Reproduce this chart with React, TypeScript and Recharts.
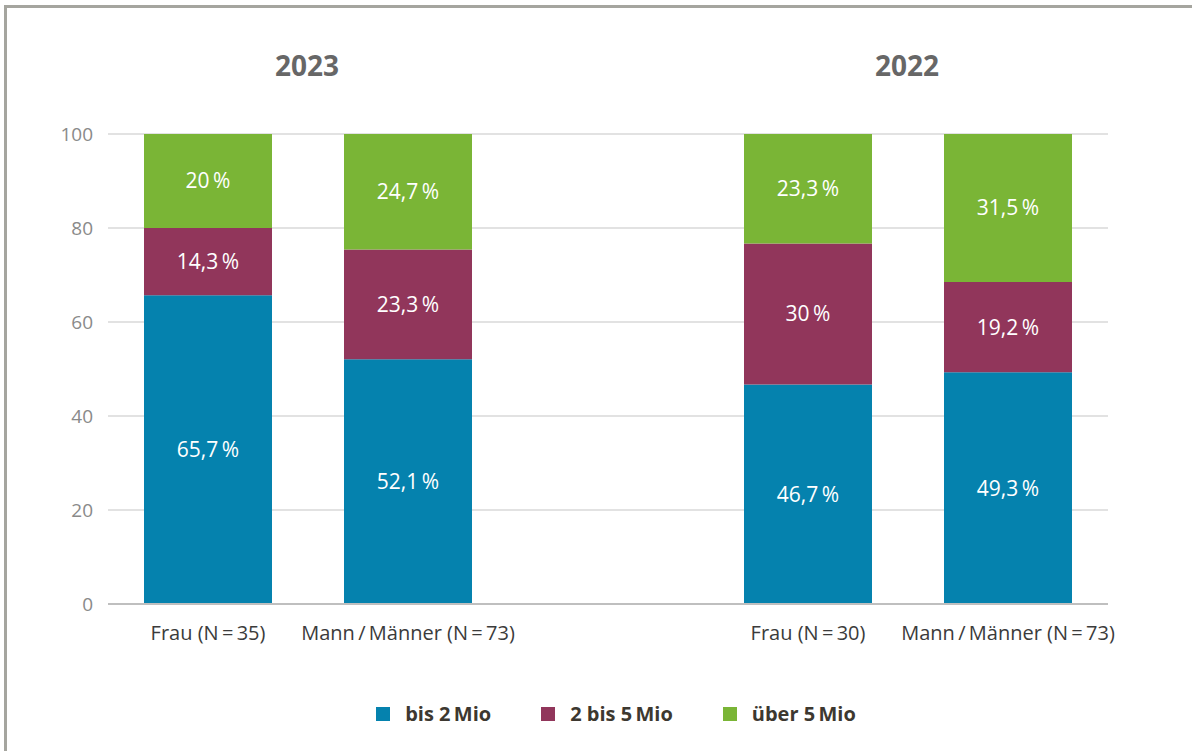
import React from "react";
import { BarChart, Bar, XAxis, YAxis, CartesianGrid, LabelList } from "recharts";

const categories = [
  "Frau (N\u2009=\u200935)",
  "Mann\u2009/\u2009Männer (N\u2009=\u200973)",
  "",
  "Frau (N\u2009=\u200930)",
  "Mann\u2009/\u2009Männer (N\u2009=\u200973)",
];
const bis2Mio: (number | null)[] = [65.7, 52.1, null, 46.7, 49.3];
const zwei5Mio: (number | null)[] = [14.3, 23.3, null, 30, 19.2];
const ueber5Mio: (number | null)[] = [20, 24.7, null, 23.3, 31.5];
const yTicks = [0, 20, 40, 60, 80, 100];
const groupTitles = ["2023", "2022"];

const seriesNames = ["bis 2\u2009Mio", "2 bis 5\u2009Mio", "über 5\u2009Mio"];
const seriesColors = ["#0582AE", "#91365B", "#7AB536"];
const seriesKeys = ["s1", "s2", "s3"];

const data = categories.map((name, i) => ({
  name,
  s1: bis2Mio[i],
  s2: zwei5Mio[i],
  s3: ueber5Mio[i],
}));

const FONT = "'Open Sans', sans-serif";

const fmt = (v: any) =>
  v == null ? "" : String(v).replace(".", ",") + "\u2009%";

const YTick = (props: any) => {
  const { x, y, payload } = props;
  return (
    <text
      x={x}
      y={y}
      dy={7}
      textAnchor="end"
      fill="#8a8a8a"
      fontSize={19}
      fontFamily={FONT}
    >
      {payload.value}
    </text>
  );
};

export default function App() {
  return (
    <div
      style={{
        position: "absolute",
        left: 0,
        top: 0,
        width: 1192,
        height: 751,
        background: "#fff",
        overflow: "hidden",
        fontFamily: FONT,
      }}
    >
      <div
        style={{
          position: "absolute",
          left: 4,
          top: 5,
          width: 1192,
          height: 760,
          borderTop: "3px solid #a5a59f",
          borderLeft: "3px solid #a5a59f",
        }}
      />
      {groupTitles.map((t, i) => (
        <div
          key={t}
          style={{
            position: "absolute",
            left: 307 + i * 600 - 60,
            width: 120,
            top: 46,
            textAlign: "center",
            fontSize: 28,
            fontWeight: 700,
            color: "#676767",
            lineHeight: "38px",
          }}
        >
          {t}
        </div>
      ))}
      <div style={{ position: "absolute", left: 0, top: 0 }}>
        <BarChart
          width={1192}
          height={751}
          data={data}
          margin={{ top: 134, right: 84, bottom: 107, left: 0 }}
          barSize={128}
        >
          <CartesianGrid
            vertical={false}
            stroke="#d9d9d9"
            strokeWidth={1.3}
          />
          <XAxis
            dataKey="name"
            height={40}
            tickLine={false}
            axisLine={{ stroke: "#bfbfbf", strokeWidth: 2 }}
            tickSize={0}
            tickMargin={22}
            interval={0}
            tick={{ fill: "#3b3b3b", fontSize: 20, fontFamily: FONT }}
          />
          <YAxis
            width={108}
            domain={[0, 100]}
            ticks={yTicks}
            allowDataOverflow
            axisLine={false}
            tickLine={false}
            tickSize={0}
            tickMargin={15}
            tick={<YTick />}
          />
          {seriesKeys.map((k, i) => (
            <Bar
              key={k}
              dataKey={k}
              stackId="a"
              fill={seriesColors[i]}
              isAnimationActive={false}
              name={seriesNames[i]}
            >
              <LabelList
                dataKey={k}
                position="center"
                formatter={fmt}
                fill="#ffffff"
                style={{ fontSize: 21, fontFamily: FONT, fill: "#ffffff" }}
              />
            </Bar>
          ))}
        </BarChart>
      </div>
      <div
        style={{
          position: "absolute",
          left: 0,
          top: 700,
          width: 1192,
          display: "flex",
          justifyContent: "center",
          paddingLeft: 40,
          boxSizing: "border-box",
          alignItems: "center",
        }}
      >
        {seriesNames.map((n, i) => (
          <div
            key={n}
            style={{
              display: "flex",
              alignItems: "center",
              marginRight: i < seriesNames.length - 1 ? 50 : 0,
            }}
          >
            <div
              style={{
                width: 14,
                height: 14,
                background: seriesColors[i],
                marginRight: 15,
              }}
            />
            <span
              style={{
                fontSize: 20,
                fontWeight: 700,
                color: "#3d3830",
                lineHeight: "28px",
              }}
            >
              {n}
            </span>
          </div>
        ))}
      </div>
    </div>
  );
}
